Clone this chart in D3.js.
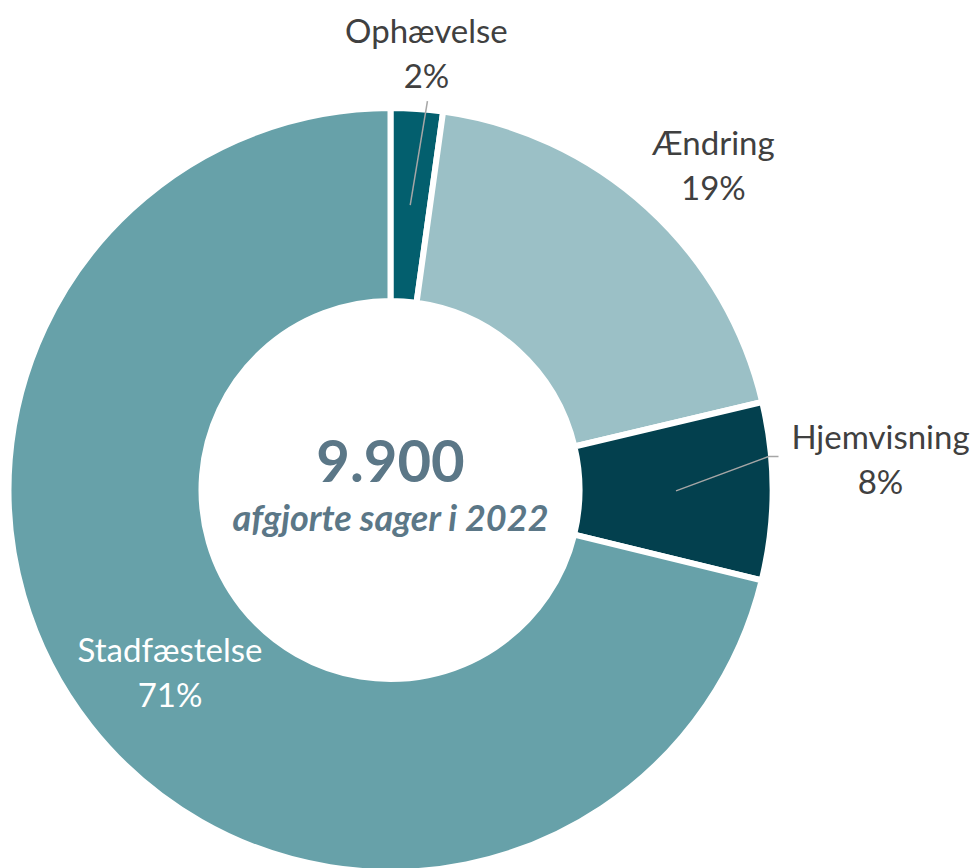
<!DOCTYPE html>
<html>
<head>
<meta charset="utf-8">
<script src="https://cdn.jsdelivr.net/npm/d3@7"></script>
<style>
  html, body { margin: 0; padding: 0; background: #fff; }
  svg text { font-family: Lato, "Open Sans", sans-serif; }
</style>
</head>
<body>
<div id="chart"></div>
<script>
// data
const categories = ["Ophævelse", "Ændring", "Hjemvisning", "Stadfæstelse"];
const shares = [2.2, 19.1, 7.5, 71.2];          // slice sizes
const shareLabels = ["2%", "19%", "8%", "71%"]; // printed labels
const colors = ["#035f6e", "#9bc0c6", "#03404e", "#67a1a9"];
const totalLabel = "9.900";
const subLabel = "afgjorte sager i 2022";

const width = 978, height = 868;
const cx = 390.5, cy = 490;
const outerR = 382, innerR = 189;

const svg = d3.select("#chart").append("svg")
  .attr("width", width)
  .attr("height", height);

const g = svg.append("g").attr("transform", `translate(${cx},${cy})`);

const data = categories.map((c, i) => ({
  name: c, value: shares[i], label: shareLabels[i], color: colors[i]
}));

const pie = d3.pie().sort(null).value(d => d.value);
const arc = d3.arc().innerRadius(innerR).outerRadius(outerR);
const arcs = pie(data);

g.selectAll(".slice")
  .data(arcs)
  .enter()
  .append("path")
  .attr("class", "slice")
  .attr("d", arc)
  .attr("fill", d => d.data.color)
  .attr("stroke", "#fff")
  .attr("stroke-width", 6);

// label placement: radius along slice mid-angle (null = centroid), then nudge
const labelLayout = {
  "Ophævelse": { r: 448, dx: 5, dy: 0 },
  "Ændring": { r: 453, dx: 18, dy: 0 },
  "Hjemvisning": { r: 490, dx: 0, dy: -43 },
  "Stadfæstelse": { r: null, dx: 4, dy: -4 }
};
const lineGap = 45;

const midAngle = d => (d.startAngle + d.endAngle) / 2;
const polar = (r, a) => [r * Math.sin(a), -r * Math.cos(a)];
const line = d3.line();

arcs.forEach(d => {
  const lay = labelLayout[d.data.name];
  const c = arc.centroid(d);
  const p = lay.r ? polar(lay.r, midAngle(d)) : c;
  const x = p[0] + lay.dx, y = p[1] + lay.dy;

  // leader lines
  let pts = null;
  if (d.data.name === "Ophævelse") pts = [c, [x + 1, y + lineGap + 13]];
  if (d.data.name === "Hjemvisning") pts = [c, [x - 112, y + 8], [x - 102, y + 8]];
  if (pts) {
    g.append("path")
      .attr("d", line(pts))
      .attr("fill", "none")
      .attr("stroke", "#a6a6a6")
      .attr("stroke-width", 1.5);
  }

  const fill = d.data.name === "Stadfæstelse" ? "#fff" : "#404040";
  const t = g.append("text")
    .attr("text-anchor", "middle")
    .style("font-size", "33px")
    .style("fill", fill);
  t.append("tspan").attr("x", x).attr("y", y).text(d.data.name);
  t.append("tspan").attr("x", x).attr("y", y + lineGap).text(d.data.label);
});

// center text
g.append("text")
  .attr("x", 0)
  .attr("y", -8)
  .attr("text-anchor", "middle")
  .style("font-size", "58px")
  .style("font-weight", "bold")
  .style("fill", "#5b7787")
  .text(totalLabel);

g.append("text")
  .attr("x", 0)
  .attr("y", 41)
  .attr("text-anchor", "middle")
  .style("font-size", "36px")
  .style("font-weight", "bold")
  .style("font-style", "italic")
  .style("fill", "#5b7787")
  .text(subLabel);
</script>
</body>
</html>
